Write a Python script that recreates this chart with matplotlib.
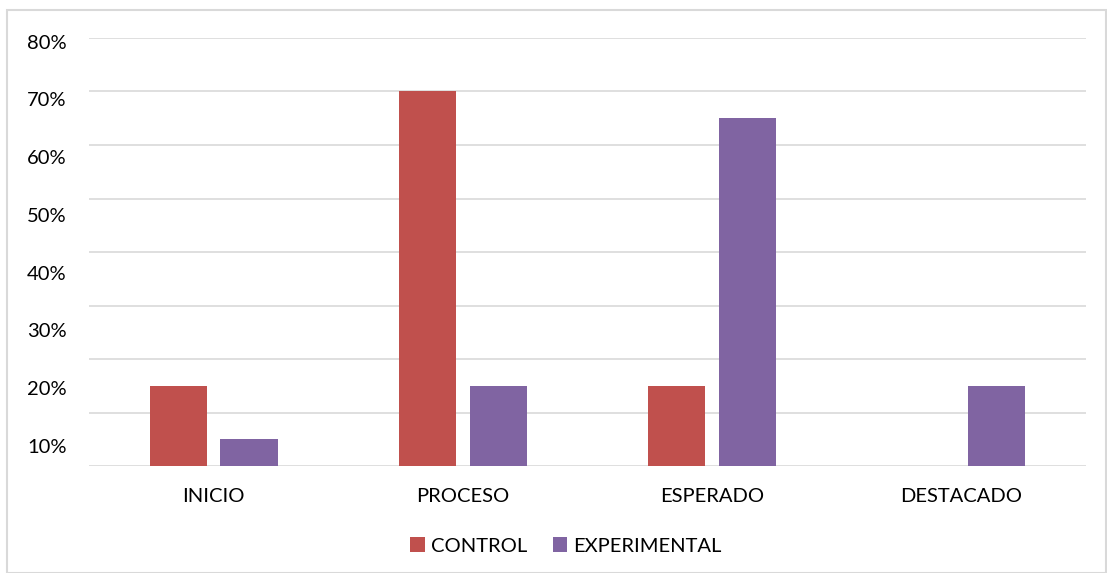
import numpy as np
import matplotlib.pyplot as plt
from matplotlib.patches import Rectangle

categorias = ["INICIO", "PROCESO", "ESPERADO", "DESTACADO"]
control = [15, 70, 15, 0]
experimental = [5, 15, 65, 15]
etiquetas_y = ["80%", "70%", "60%", "50%", "40%", "30%", "20%", "10%"]

plt.rcParams["font.family"] = ["Lato", "DejaVu Sans"]

fig = plt.figure(figsize=(11.07, 5.73), dpi=100)
ax = fig.add_axes([0.0804, 0.1867, 0.9006, 0.747])

x = np.arange(len(categorias))
ancho = 0.23
ax.bar(x - 0.142, control, ancho, color="#C0504D", label="CONTROL", zorder=3)
ax.bar(x + 0.142, experimental, ancho, color="#8064A2", label="EXPERIMENTAL", zorder=3)

# lineas de cuadricula cada 10%
for v in range(0, 81, 10):
    ax.axhline(v, color="#d9d9d9", lw=1.2, zorder=1)

ax.set_xlim(-0.5, len(categorias) - 0.5)
ax.set_ylim(0, 80)
ax.set_xticks(x)
ax.set_xticklabels(categorias, fontsize=14.5)
ax.set_yticks(np.linspace(79.3, 3.8, len(etiquetas_y)))
ax.set_yticklabels(etiquetas_y, fontsize=14.5)
ax.tick_params(axis="x", length=0, pad=16)
ax.tick_params(axis="y", length=0, pad=16)
for s in ax.spines.values():
    s.set_visible(False)

fig.legend(loc="center", bbox_to_anchor=(566 / 1107, 1 - 546 / 573), ncol=2,
           frameon=False, fontsize=14.5, handlelength=0.7, handleheight=0.7,
           handletextpad=0.3, columnspacing=1.3)

# marco exterior del grafico
fig.patches.append(Rectangle((7 / 1107, 0), 1099 / 1107, 1 - 10 / 573,
                             transform=fig.transFigure, fill=False,
                             edgecolor="#d9d9d9", lw=1.5))

fig.savefig("out.png", dpi=100)
